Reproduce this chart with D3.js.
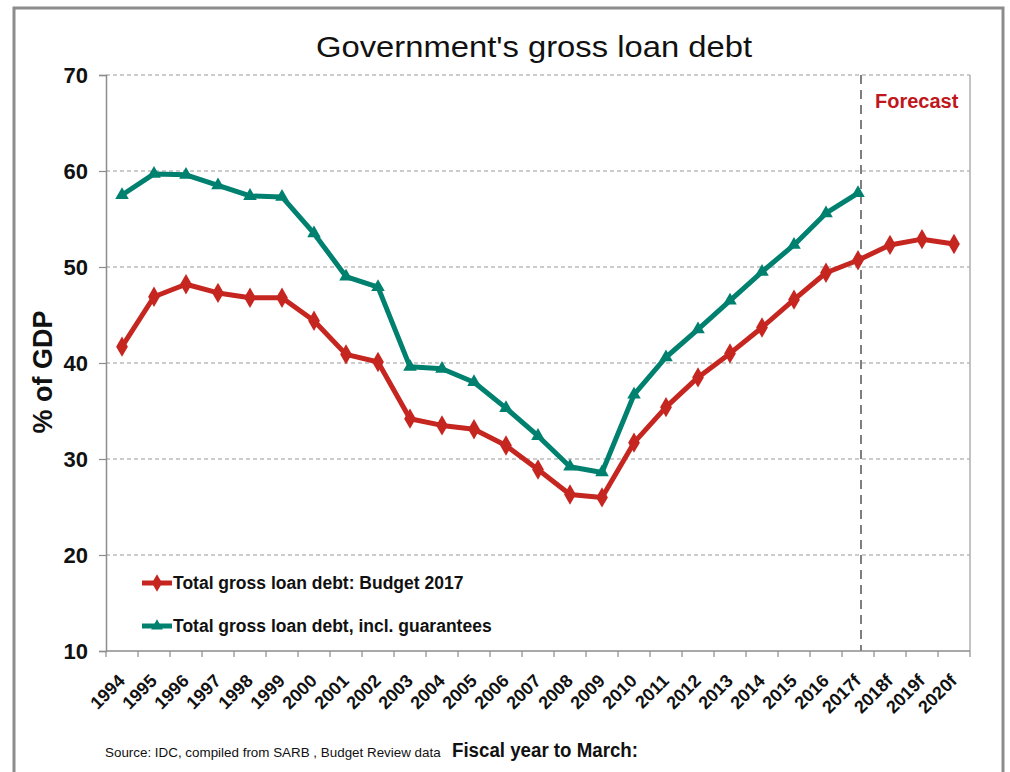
<!DOCTYPE html>
<meta charset="utf-8">
<script src="https://d3js.org/d3.v7.min.js"></script>
<style>
body { margin: 0; background: #fff; }
text { font-family: "Liberation Sans", Arial, sans-serif; }
</style>
<body>
<div id="chart"></div>
<script>
// data
var years = ["1994","1995","1996","1997","1998","1999","2000","2001","2002","2003",
  "2004","2005","2006","2007","2008","2009","2010","2011","2012","2013",
  "2014","2015","2016","2017f","2018f","2019f","2020f"];
var budgetDebt = [41.7, 46.9, 48.2, 47.3, 46.8, 46.8, 44.4, 40.9, 40.1, 34.2,
  33.5, 33.1, 31.4, 28.9, 26.3, 26.0, 31.7, 35.4, 38.5, 41.0,
  43.7, 46.6, 49.4, 50.7, 52.3, 52.9, 52.4];
var withGuarantees = [57.5, 59.7, 59.6, 58.5, 57.4, 57.3, 53.5, 49.0, 47.9, 39.6,
  39.4, 38.0, 35.3, 32.4, 29.2, 28.6, 36.7, 40.6, 43.5, 46.5,
  49.5, 52.3, 55.6, 57.7];
var yTicks = [10, 20, 30, 40, 50, 60, 70];
var forecastFrom = "2017f";

var red = "#c62620", teal = "#00806f";

var W = 1010, H = 772;
var margin = {top: 75, right: 40, bottom: 121, left: 106};

var svg = d3.select("#chart").append("svg")
  .attr("width", W).attr("height", H);

// outer frame
svg.append("rect")
  .attr("x", 14).attr("y", 8).attr("width", 989).attr("height", 800)
  .style("fill", "none").style("stroke", "#8c8c8c").style("stroke-width", 3);

var x = d3.scaleBand().domain(years).range([margin.left, W - margin.right]);
var y = d3.scaleLinear().domain([10, 70]).range([H - margin.bottom, margin.top]);
var cx = function(d) { return x(d) + x.bandwidth() / 2; };

var x0 = x.range()[0], x1 = x.range()[1];

// gridlines
svg.selectAll(".grid").data(yTicks.filter(function(t) { return t > 10; }))
  .enter().append("line")
  .attr("x1", x0).attr("x2", x1)
  .attr("y1", function(d) { return y(d); }).attr("y2", function(d) { return y(d); })
  .style("stroke", "#9a9a9a").style("stroke-width", 1.2).style("stroke-dasharray", "4,3");

// right edge of plot
svg.append("line")
  .attr("x1", x1).attr("x2", x1).attr("y1", y(70)).attr("y2", y(10))
  .style("stroke", "#b0b0b0").style("stroke-width", 1.5);

// forecast divider
var fx = cx(forecastFrom) + 3;
svg.append("line")
  .attr("x1", fx).attr("x2", fx).attr("y1", y(70)).attr("y2", y(10))
  .style("stroke", "#7f7f7f").style("stroke-width", 2).style("stroke-dasharray", "9,6");

svg.append("text")
  .attr("x", fx + 14).attr("y", 108)
  .style("font-size", "20px").style("font-weight", "bold").style("fill", "#c0171c")
  .text("Forecast");

// y axis
var yAxis = svg.append("g")
  .attr("transform", "translate(" + x0 + ",0)")
  .call(d3.axisLeft(y).tickValues(yTicks).tickSize(7).tickPadding(11));
yAxis.select(".domain").style("stroke", "#8c8c8c").style("stroke-width", 1.5);
yAxis.selectAll(".tick line").style("stroke", "#8c8c8c").style("stroke-width", 1.2);
yAxis.selectAll(".tick text")
  .style("font-size", "22px").style("font-weight", "bold").style("fill", "#111")
  .style("font-family", "'Liberation Sans', Arial, sans-serif");

// x axis: ticks at category boundaries
var xAxis = svg.append("g")
  .attr("transform", "translate(0," + y(10) + ")");
xAxis.append("line")
  .attr("x1", x0).attr("x2", x1)
  .style("stroke", "#8c8c8c").style("stroke-width", 1.5);
xAxis.selectAll(".xt").data(years.concat(["end"]))
  .enter().append("line")
  .attr("x1", function(d, i) { return x0 + i * x.step(); })
  .attr("x2", function(d, i) { return x0 + i * x.step(); })
  .attr("y1", 0).attr("y2", 6)
  .style("stroke", "#8c8c8c").style("stroke-width", 1.2);
xAxis.selectAll(".xl").data(years)
  .enter().append("text")
  .attr("text-anchor", "end")
  .attr("transform", function(d) {
    return "translate(" + (cx(d) + 4) + ",31) rotate(-45)";
  })
  .style("font-size", "18px").style("font-weight", "bold").style("fill", "#111")
  .text(function(d) { return d; });

// lines
var line = d3.line()
  .x(function(d) { return cx(d.year); })
  .y(function(d) { return y(d.value); });

var series = [
  {name: "Total gross loan debt: Budget 2017", color: red, shape: d3.symbolDiamond,
    values: budgetDebt.map(function(v, i) { return {year: years[i], value: v}; })},
  {name: "Total gross loan debt, incl. guarantees", color: teal, shape: d3.symbolTriangle,
    values: withGuarantees.map(function(v, i) { return {year: years[i], value: v}; })}
];

// teal drawn first, red on top
[series[1], series[0]].forEach(function(s) {
  svg.append("path")
    .datum(s.values)
    .attr("d", line)
    .style("fill", "none").style("stroke", s.color)
    .style("stroke-width", 5).style("stroke-linejoin", "round");
  svg.selectAll(null).data(s.values).enter().append("path")
    .attr("transform", function(d) { return "translate(" + cx(d.year) + "," + y(d.value) + ")"; })
    .attr("d", d3.symbol().type(s.shape).size(s.shape === d3.symbolDiamond ? 120 : 80))
    .style("fill", s.color);
});

// legend
var legend = svg.selectAll(".legend").data(series).enter().append("g")
  .attr("transform", function(d, i) { return "translate(142," + (583 + i * 43) + ")"; });
legend.append("line")
  .attr("x1", 0).attr("x2", 30)
  .style("stroke", function(d) { return d.color; }).style("stroke-width", 5);
legend.append("path")
  .attr("transform", "translate(15,0)")
  .attr("d", function(d) { return d3.symbol().type(d.shape).size(d.shape === d3.symbolDiamond ? 90 : 60)(); })
  .style("fill", function(d) { return d.color; });
legend.append("text")
  .attr("x", 31).attr("dy", "0.36em")
  .style("font-size", "17.5px").style("font-weight", "bold").style("fill", "#111")
  .text(function(d) { return d.name; });

// y title
svg.append("text")
  .attr("transform", "translate(52,372) rotate(-90)")
  .attr("text-anchor", "middle")
  .style("font-size", "27px").style("font-weight", "bold").style("fill", "#111")
  .text("% of GDP");

// title
svg.append("text")
  .attr("x", 534).attr("y", 57)
  .attr("text-anchor", "middle")
  .attr("textLength", 436).attr("lengthAdjust", "spacingAndGlyphs")
  .style("font-size", "30px").style("fill", "#111")
  .text("Government's gross loan debt");

// source and x title
svg.append("text")
  .attr("x", 105).attr("y", 757)
  .style("font-size", "13.4px").style("fill", "#111")
  .text("Source: IDC, compiled from SARB , Budget Review data");

svg.append("text")
  .attr("x", 452).attr("y", 757)
  .attr("textLength", 186).attr("lengthAdjust", "spacingAndGlyphs")
  .style("font-size", "20px").style("font-weight", "bold").style("fill", "#111")
  .text("Fiscal year to March:");
</script>
</body>
